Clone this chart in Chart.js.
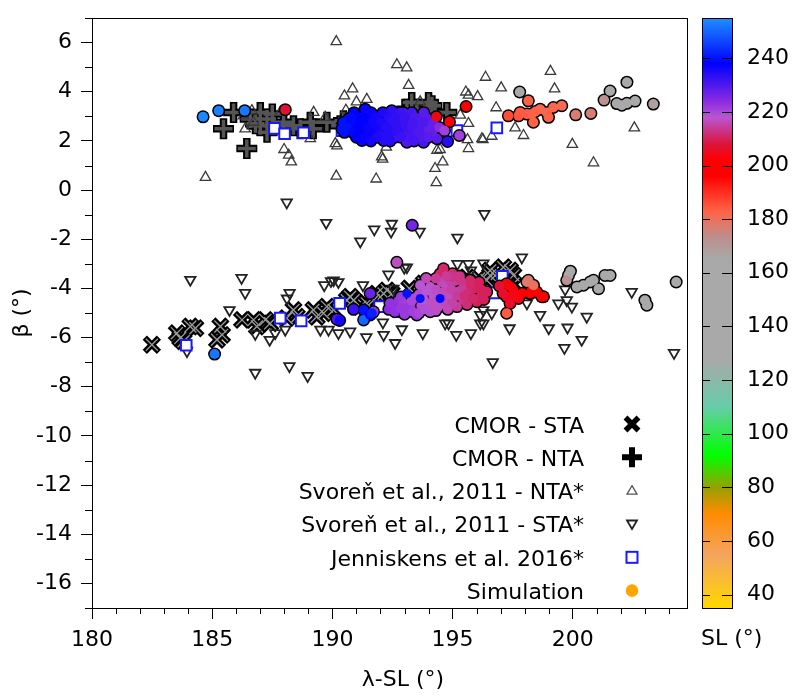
<!DOCTYPE html>
<html><head><meta charset="utf-8">
<script src="https://cdn.jsdelivr.net/npm/chart.js@4.4.1/dist/chart.umd.min.js"></script>
<style>html,body{margin:0;padding:0;background:#fff}#wrap{width:800px;height:700px}</style>
</head><body><div id="wrap"><canvas id="c" width="800" height="700"></canvas></div>
<script>
// ---------- data ----------
const X_TICKS = [180, 185, 190, 195, 200];
const Y_TICKS = [-16, -14, -12, -10, -8, -6, -4, -2, 0, 2, 4, 6];
const SL_TICKS = [40, 60, 80, 100, 120, 140, 160, 180, 200, 220, 240];
const LEGEND_LABELS = ['CMOR - STA', 'CMOR - NTA', 'Svoreň et al., 2011 - NTA*', 'Svoreň et al., 2011 - STA*', 'Jenniskens et al. 2016*', 'Simulation'];

const cmorSTA = [[182.49,-6.29],[183.53,-5.82],[183.67,-6.02],[183.81,-6.15],[184.09,-5.55],[184.30,-5.62],[185.34,-5.55],[185.41,-5.89],[185.20,-6.09],[186.24,-5.28],[186.72,-5.28],[186.86,-5.55],[187.21,-5.28],[187.41,-5.42],[188.38,-4.88],[188.52,-5.15],[188.10,-5.21],[189.21,-4.88],[189.35,-5.15],[189.77,-4.74],[190.05,-4.88],[189.63,-5.01],[190.60,-4.48],[190.88,-4.48],[191.16,-4.74],[191.43,-4.61],[191.71,-4.48],[192.13,-4.21],[192.47,-4.21],[190.74,-4.34],[191.85,-4.21],[192.27,-4.08],[196.56,-3.27],[196.84,-3.41],[197.39,-3.27],[196.42,-3.67],[197.53,-3.81],[197.11,-3.14],[197.53,-3.47],[196.56,-3.47],[193.2,-4.0],[193.8,-3.8],[194.5,-3.7],[195.1,-3.6],[195.6,-3.55],[196.1,-3.6]];

const cmorNTA = [[185.47,2.49],[186.44,1.69],[185.89,3.16],[187.00,3.16],[187.00,2.62],[186.58,2.89],[187.28,2.89],[187.55,2.62],[187.28,2.35],[187.97,2.76],[188.38,2.62],[188.66,2.49],[189.08,2.76],[189.20,2.49],[189.77,2.76],[190.32,2.62],[190.46,2.82],[193.10,3.29],[193.30,3.56],[193.51,3.29],[193.86,3.02],[194.00,3.56],[194.14,3.43],[194.27,3.16],[194.76,3.16],[193.93,3.16],[186.80,2.70],[187.50,3.10]];

const svorenNTA = [[190.16,6.04],[192.68,5.10],[190.84,4.12],[190.50,3.83],[191.00,3.59],[190.56,3.25],[184.72,0.52],[190.16,0.57],[191.82,0.45],[192.09,1.26],[187.99,1.65],[188.18,1.42],[188.29,1.15],[190.12,1.89],[190.19,1.80],[186.30,3.02],[186.65,3.23],[186.72,2.76],[186.37,2.49],[189.70,2.96],[189.08,2.09],[191.43,3.69],[192.24,1.75],[187.83,3.16],[193.09,4.97],[193.17,4.26],[196.37,4.59],[197.02,4.16],[199.07,4.83],[199.24,4.12],[195.55,3.99],[195.66,3.86],[196.04,3.80],[196.81,3.35],[195.32,3.05],[195.66,2.71],[197.60,2.53],[197.95,2.22],[196.26,2.05],[196.63,2.19],[195.62,2.05],[195.66,1.69],[199.98,1.86],[200.86,1.11],[202.56,2.53],[194.48,1.65],[194.59,1.15],[194.27,0.88],[194.32,0.30],[193.65,3.59],[192.05,1.35],[194.35,1.62],[196.22,2.09],[189.22,3.16]];

const svorenSTA = [[188.10,-0.50],[189.74,-1.33],[191.16,-2.09],[191.74,-1.60],[192.47,-1.37],[192.44,-1.69],[184.09,-3.65],[186.22,-3.57],[186.37,-4.18],[185.72,-4.88],[188.22,-4.18],[188.11,-4.41],[189.66,-3.87],[189.94,-3.70],[190.25,-3.74],[191.27,-3.87],[192.33,-3.43],[192.54,-4.01],[187.39,-6.09],[186.79,-7.43],[188.21,-7.16],[188.97,-7.56],[189.50,-5.68],[189.84,-5.68],[190.25,-5.82],[190.74,-5.75],[191.41,-5.98],[192.13,-5.89],[192.10,-5.38],[192.61,-6.22],[186.79,-5.85],[187.62,-5.82],[188.04,-5.68],[183.95,-6.55],[196.32,-0.97],[193.63,-1.69],[195.20,-1.93],[192.99,-3.16],[195.20,-3.00],[195.66,-3.00],[195.76,-3.27],[196.28,-2.98],[197.88,-2.74],[199.68,-4.04],[199.75,-4.48],[199.40,-4.61],[199.96,-4.74],[200.58,-5.15],[200.37,-6.09],[199.65,-6.42],[199.00,-5.62],[199.78,-5.59],[198.64,-5.08],[198.09,-4.61],[197.37,-5.62],[196.67,-7.00],[196.28,-5.42],[195.76,-5.82],[195.15,-5.89],[194.69,-5.42],[193.76,-5.82],[192.89,-5.66],[202.45,-4.14],[204.21,-6.62],[196.28,-4.88],[196.15,-5.08],[194.83,-5.42],[196.15,-5.42],[196.63,-5.01],[193.10,-3.14],[190.05,-3.67]];

const jenniskens = [[187.59,2.51],[188.01,2.29],[188.80,2.33],[190.40,2.42],[195.18,2.42],[196.84,2.53],[183.92,-6.31],[187.83,-5.21],[188.70,-5.32],[190.30,-4.61],[191.96,-4.74],[192.89,-4.95],[196.74,-4.18],[197.07,-3.51]];

// simulation: [lambda-SL, beta, SL]
const simulation = [
[184.62,2.98,254],[185.27,3.23,253],[186.35,3.23,252],[188.04,3.27,207],
[190.40,2.49,240],[190.55,2.70,240],[190.67,2.89,239],[190.90,2.60,239],[191.02,2.69,238],[191.10,2.95,238],[191.23,2.02,237],[191.30,2.40,237],[191.36,3.29,237],[191.50,2.80,237],[191.60,2.20,236],[191.70,3.05,236],[191.85,2.89,235],[191.90,2.50,235],[192.00,2.20,234],[192.13,2.02,234],[192.20,2.75,234],[192.30,3.10,234],[192.47,3.23,233],[192.50,2.45,233],[192.60,2.15,232],[192.70,2.85,233],[192.82,2.62,232],[192.95,3.15,231],[193.10,1.95,230],[193.10,2.40,231],[193.24,2.89,230],[193.40,2.25,229],[193.58,2.89,230],[193.60,2.55,230],[193.79,1.95,231],[193.85,2.35,230],[194.00,2.49,228],[194.10,2.75,228],[194.35,2.09,229],
[190.90,3.15,238],[191.60,3.15,237],[192.10,3.15,235],[192.80,3.15,232],[193.30,3.15,231],[193.80,3.15,229],
[190.80,2.95,239],[191.30,2.95,238],[191.80,2.95,236],[192.35,2.95,234],[192.60,2.95,233],[193.00,2.95,232],[193.45,2.95,230],[193.90,2.95,229],
[190.45,2.75,240],[190.75,2.75,239],[191.25,2.75,238],[191.70,2.75,236],[192.00,2.75,235],[192.45,2.75,233],[193.00,2.75,232],[193.35,2.75,231],[193.80,2.75,230],[194.20,2.75,228],
[190.60,2.55,240],[191.15,2.55,238],[191.50,2.55,237],[191.75,2.55,236],[192.25,2.55,234],[192.70,2.55,233],[193.05,2.55,232],[193.30,2.55,231],[194.20,2.55,228],
[190.50,2.35,240],[190.85,2.35,239],[191.10,2.35,238],[191.55,2.35,237],[192.30,2.35,234],[192.75,2.35,233],[193.60,2.35,230],[194.15,2.35,228],
[191.00,2.15,238],[191.35,2.15,237],[191.85,2.15,235],[192.35,2.15,234],[192.85,2.15,232],[193.25,2.15,231],[193.60,2.15,230],[194.00,2.15,229],
[191.60,2.00,236],[192.40,2.00,234],[193.40,2.00,231],[194.45,2.55,224],
[194.66,2.42,221],[195.28,2.22,221],[194.79,1.98,234],[194.32,2.98,203],[194.87,2.78,202],[195.56,3.40,202],
[197.32,3.02,186],[197.74,3.02,185],[197.81,3.16,184],[198.09,3.09,184],[198.15,3.63,183],[198.29,3.09,183],[198.36,2.76,183],[198.64,3.29,182],[198.92,3.16,182],[198.99,2.96,183],[199.19,3.36,182],[199.54,3.43,181],[198.45,3.20,183],
[200.12,3.06,177],[200.75,3.12,177],
[197.79,3.99,160],[201.55,4.03,158],[202.25,4.39,157],[201.30,3.66,172],[201.83,3.52,160],[202.04,3.45,158],[202.25,3.53,158],[202.59,3.62,157],[203.35,3.50,168],
[193.32,-1.43,226],
[185.10,-6.67,252],
[190.19,-5.25,230],[190.30,-5.30,236],[190.88,-4.85,232],[191.30,-4.88,240],[191.30,-5.28,250],[191.57,-4.21,227],[191.71,-4.95,222],[191.57,-5.08,238],[191.64,-5.01,242],
[192.68,-2.94,217],
[192.35,-4.85,224],[192.55,-4.68,224],[192.75,-4.50,223],[192.96,-4.61,221],[193.10,-4.85,222],[193.24,-4.68,222],[193.51,-5.08,222],[193.40,-4.40,220],[193.65,-3.87,218],[193.70,-4.70,219],[193.93,-4.61,218],[194.07,-3.94,218],[194.07,-4.95,219],[194.20,-4.30,218],[194.40,-4.75,217],[194.48,-3.41,211],[194.62,-3.20,211],[194.55,-3.75,216],[194.76,-3.94,217],[194.76,-4.68,217],[194.90,-4.30,217],[195.10,-3.70,214],[195.18,-4.74,214],[195.30,-4.10,215],[195.45,-3.94,214],[195.45,-4.48,213],[195.65,-4.20,212],[195.73,-3.67,211],[195.90,-4.00,211],[196.01,-3.94,210],[196.01,-4.54,210],[196.20,-4.25,210],[196.42,-4.14,210],[194.30,-3.60,214],[193.90,-3.60,216],[195.00,-3.40,212],
[192.40,-4.60,223],[192.60,-4.95,223],[192.85,-4.35,222],[192.85,-4.80,222],[193.00,-5.05,222],[193.30,-4.50,220],[193.35,-4.95,221],[193.60,-4.25,219],[193.60,-5.00,220],[193.80,-4.45,218],[193.85,-4.85,219],
[193.90,-4.10,218],[194.10,-4.60,217],[194.30,-4.05,217],[194.35,-4.45,217],[194.60,-4.15,216],[194.60,-4.50,216],[194.90,-3.70,215],[194.95,-4.05,215],[195.00,-4.60,215],[195.20,-4.30,214],[194.30,-4.90,217],[194.80,-4.85,216],
[195.35,-3.70,213],[195.50,-4.30,212],[195.60,-4.65,212],[195.75,-3.85,211],[195.85,-4.40,211],[196.10,-3.75,210],[196.20,-4.05,210],[196.30,-4.45,210],[195.30,-3.50,213],[195.00,-3.55,213],[194.75,-3.50,214],
[197.25,-3.81,203],[197.53,-4.08,202],[197.25,-4.34,204],[197.67,-4.34,203],[197.39,-4.61,206],[198.22,-4.21,200],[198.36,-3.94,200],[198.78,-4.34,199],[198.71,-4.34,199],[198.29,-4.08,200],[197.32,-3.87,203],[197.74,-4.41,204],[197.10,-4.20,206],[196.95,-3.90,207],
[197.45,-3.95,203],[197.90,-4.20,201],[198.50,-4.15,200],[197.55,-4.30,204],
[198.15,-3.67,178],[198.09,-3.74,178],[198.36,-3.87,180],[197.25,-5.01,184],
[199.82,-3.47,162],[199.75,-3.67,172],[200.17,-3.94,160],[200.44,-3.87,160],[200.72,-3.74,160],[201.07,-4.01,158],[201.34,-3.47,158],[201.55,-3.47,158],[200.86,-3.67,160],[203.00,-4.48,157],[203.08,-4.68,157],[204.30,-3.74,158],[199.90,-3.30,160]
];
// small bright simulation points drawn without outline
const simulationCore = [[193.10,-4.21,240],[193.65,-4.41,240],[194.48,-4.41,239]];

// ---------- colour scale ----------
const SL_MIN = 35, SL_MAX = 255;
const SL_STOPS = [[35,[255,215,0]],[55,[244,164,96]],[70,[255,140,0]],[80,[150,160,0]],[92,[0,255,0]],[110,[102,205,170]],[128,[169,169,169]],[165,[169,169,169]],[173,[188,143,143]],[183,[255,99,71]],[196,[255,0,0]],[202,[255,0,0]],[208,[220,20,60]],[218,[186,85,211]],[224,[138,43,226]],[238,[0,0,255]],[255,[30,144,255]]];
function slColor(v){
  if (v <= SL_STOPS[0][0]) return 'rgb(' + SL_STOPS[0][1].join(',') + ')';
  for (let i = 1; i < SL_STOPS.length; i++){
    if (v <= SL_STOPS[i][0]){
      const a = SL_STOPS[i-1], b = SL_STOPS[i];
      const t = (v - a[0]) / (b[0] - a[0]);
      const c = a[1].map((ch, k) => Math.round(ch + t * (b[1][k] - ch)));
      return 'rgb(' + c.join(',') + ')';
    }
  }
  return 'rgb(' + SL_STOPS[SL_STOPS.length-1][1].join(',') + ')';
}

const FONT = '"DejaVu Sans", "Liberation Sans", sans-serif';
Chart.defaults.font.family = FONT;
Chart.defaults.font.size = 22;
Chart.defaults.color = '#000';

const pts = a => a.map(p => ({x: p[0], y: p[1]}));
const noPad = s => { s.paddingTop = 0; s.paddingBottom = 0; s.paddingLeft = 0; s.paddingRight = 0; };

// ---------- plugins ----------
const framePlugin = {
  id: 'frame',
  afterDraw(chart){
    const {ctx, chartArea: a, scales} = chart;
    ctx.save();
    ctx.strokeStyle = '#000'; ctx.lineWidth = 1;
    ctx.strokeRect(Math.round(a.left)+0.5, Math.round(a.top)+0.5, Math.round(a.right-a.left), Math.round(a.bottom-a.top));
    // minor ticks
    const xs = scales.x, ys = scales.y;
    ctx.beginPath();
    for (let v = Math.ceil(xs.min); v <= xs.max; v++){
      if (v % 5 === 0) continue;
      const px = Math.round(xs.getPixelForValue(v)) + 0.5;
      ctx.moveTo(px, a.bottom); ctx.lineTo(px, a.bottom + 6);
    }
    for (let v = Math.ceil(ys.min); v <= ys.max; v++){
      if (v % 2 === 0) continue;
      const py = Math.round(ys.getPixelForValue(v)) + 0.5;
      ctx.moveTo(a.left, py); ctx.lineTo(a.left - 7, py);
    }
    ctx.stroke();
    // x axis title
    ctx.fillStyle = '#000';
    ctx.font = '22px ' + FONT;
    ctx.textAlign = 'center'; ctx.textBaseline = 'alphabetic';
    ctx.fillText('λ-SL (°)', 403, 686);
    ctx.restore();
  }
};

const colorbarPlugin = {
  id: 'colorbar',
  afterDraw(chart){
    const {ctx, chartArea: a} = chart;
    const s = chart.scales.sl;
    const x0 = a.right + 15, w = 30;
    const top = s.getPixelForValue(SL_MAX), bot = s.getPixelForValue(SL_MIN);
    const g = ctx.createLinearGradient(0, bot, 0, top);
    SL_STOPS.forEach(st => g.addColorStop((st[0]-SL_MIN)/(SL_MAX-SL_MIN), 'rgb(' + st[1].join(',') + ')'));
    ctx.save();
    ctx.fillStyle = g;
    ctx.fillRect(x0, top, w, bot - top);
    ctx.strokeStyle = '#000'; ctx.lineWidth = 1;
    ctx.strokeRect(x0 + 0.5, Math.round(top) + 0.5, w, Math.round(bot - top));
    ctx.beginPath();
    SL_TICKS.forEach(v => {
      const py = Math.round(s.getPixelForValue(v)) + 0.5;
      ctx.moveTo(x0, py); ctx.lineTo(x0 + 8, py);
      ctx.moveTo(x0 + w - 10, py); ctx.lineTo(x0 + w, py);
    });
    ctx.stroke();
    ctx.fillStyle = '#000';
    ctx.font = '22px ' + FONT;
    ctx.textAlign = 'left'; ctx.textBaseline = 'alphabetic';
    ctx.fillText('SL (°)', 701, 645);
    ctx.restore();
  }
};

const legendPlugin = {
  id: 'customLegend',
  afterDraw(chart){
    const {ctx} = chart;
    const textX = 584, symX = 632, y0 = 424, dy = 33.33;
    ctx.save();
    ctx.font = '22px ' + FONT;
    ctx.fillStyle = '#000';
    ctx.textAlign = 'right'; ctx.textBaseline = 'alphabetic';
    LEGEND_LABELS.forEach((t, i) => ctx.fillText(t, textX, y0 + i*dy + 8.5));
    let y;
    // X
    y = y0; ctx.strokeStyle = '#000'; ctx.lineWidth = 5.5;
    ctx.beginPath(); ctx.moveTo(symX-6.5, y-6.5); ctx.lineTo(symX+6.5, y+6.5); ctx.moveTo(symX+6.5, y-6.5); ctx.lineTo(symX-6.5, y+6.5); ctx.stroke();
    // plus
    y = y0 + dy; ctx.lineWidth = 6;
    ctx.beginPath(); ctx.moveTo(symX-10, y); ctx.lineTo(symX+10, y); ctx.moveTo(symX, y-10); ctx.lineTo(symX, y+10); ctx.stroke();
    // triangle up
    y = y0 + 2*dy; ctx.lineWidth = 1.3; ctx.strokeStyle = '#555';
    ctx.beginPath(); ctx.moveTo(symX, y-5); ctx.lineTo(symX+5, y+3.5); ctx.lineTo(symX-5, y+3.5); ctx.closePath(); ctx.stroke();
    // triangle down
    y = y0 + 3*dy; ctx.lineWidth = 1.8; ctx.strokeStyle = '#222';
    ctx.beginPath(); ctx.moveTo(symX, y+5); ctx.lineTo(symX+5, y-3.5); ctx.lineTo(symX-5, y-3.5); ctx.closePath(); ctx.stroke();
    // square
    y = y0 + 4*dy; ctx.lineWidth = 2; ctx.strokeStyle = '#1a1aff';
    ctx.strokeRect(symX-5.5, y-5.5, 11, 11);
    // circle
    y = y0 + 5*dy; ctx.fillStyle = '#FFA500';
    ctx.beginPath(); ctx.arc(symX, y, 6.3, 0, Math.PI*2); ctx.fill();
    ctx.restore();
  }
};

// ---------- chart ----------
new Chart(document.getElementById('c'), {
  type: 'scatter',
  data: {
    datasets: [
      {label: 'simCore', data: pts(simulationCore), pointRadius: 4.5, pointBorderWidth: 0, pointBackgroundColor: simulationCore.map(p => slColor(p[2])), order: 0},
      {label: 'Simulation', data: pts(simulation), pointRadius: 5, pointBorderWidth: 0, pointBackgroundColor: simulation.map(p => slColor(p[2])), order: 1},
      {label: 'SimulationOutline', data: pts(simulation), pointRadius: 6.5, pointBorderWidth: 0, pointBackgroundColor: '#000', order: 2},
      {label: 'Jenniskens', data: pts(jenniskens), pointStyle: 'rect', pointRadius: 7.5, pointBackgroundColor: '#fff', pointBorderColor: '#1a1aff', pointBorderWidth: 2, order: 3},
      {label: 'SvorenSTA', data: pts(svorenSTA), pointStyle: 'triangle', pointRotation: 180, pointRadius: 6, pointBackgroundColor: 'rgba(0,0,0,0)', pointBorderColor: '#222', pointBorderWidth: 1.8, order: 4},
      {label: 'SvorenNTA', data: pts(svorenNTA), pointStyle: 'triangle', pointRadius: 6, pointBackgroundColor: 'rgba(0,0,0,0)', pointBorderColor: '#3a3a3a', pointBorderWidth: 1.3, order: 5},
      {label: 'CMOR-NTA-inner', data: pts(cmorNTA), pointStyle: 'cross', pointRadius: 9, pointBorderColor: '#555', pointBorderWidth: 3.5, order: 6},
      {label: 'CMOR-NTA', data: pts(cmorNTA), pointStyle: 'cross', pointRadius: 10.5, pointBorderColor: '#000', pointBorderWidth: 7.5, order: 7},
      {label: 'CMOR-STA-inner', data: pts(cmorSTA), pointStyle: 'crossRot', pointRadius: 8.5, pointBorderColor: '#999', pointBorderWidth: 1.3, order: 8},
      {label: 'CMOR-STA', data: pts(cmorSTA), pointStyle: 'crossRot', pointRadius: 10, pointBorderColor: '#000', pointBorderWidth: 6, order: 9}
    ]
  },
  options: {
    responsive: false,
    devicePixelRatio: 1,
    animation: false,
    events: [],
    layout: {padding: {top: 11, left: 0, right: 0, bottom: 0}},
    plugins: {legend: {display: false}, tooltip: {enabled: false}},
    scales: {
      x: {
        type: 'linear', position: 'bottom', min: 180, max: 204.75,
        afterBuildTicks: s => { s.ticks = X_TICKS.map(v => ({value: v})); },
        afterFit: s => { s.height = 92; noPad(s); },
        ticks: {autoSkip: false, maxRotation: 0, padding: 8, callback: v => String(v), font: {size: 22}},
        grid: {display: true, drawOnChartArea: false, drawTicks: true, tickLength: 11, tickColor: '#000', tickWidth: 1},
        border: {display: false}
      },
      y: {
        type: 'linear', position: 'left', min: -17, max: 7,
        afterBuildTicks: s => { s.ticks = Y_TICKS.map(v => ({value: v})); },
        afterFit: s => { s.width = 92; noPad(s); },
        ticks: {autoSkip: false, padding: 9, callback: v => String(v), font: {size: 22}},
        grid: {display: true, drawOnChartArea: false, drawTicks: true, tickLength: 11, tickColor: '#000', tickWidth: 1},
        border: {display: false},
        title: {display: true, text: 'β (°)', font: {size: 22}, padding: {top: 9, bottom: 0}}
      },
      sl: {
        type: 'linear', position: 'right', min: SL_MIN, max: SL_MAX,
        afterBuildTicks: s => { s.ticks = SL_TICKS.map(v => ({value: v})); },
        afterFit: s => { s.width = 113; noPad(s); },
        ticks: {autoSkip: false, padding: 4, callback: v => String(v), font: {size: 22}},
        grid: {display: false, drawTicks: true, tickLength: 56},
        border: {display: false}
      }
    }
  },
  plugins: [framePlugin, colorbarPlugin, legendPlugin]
});
</script>
</body></html>
